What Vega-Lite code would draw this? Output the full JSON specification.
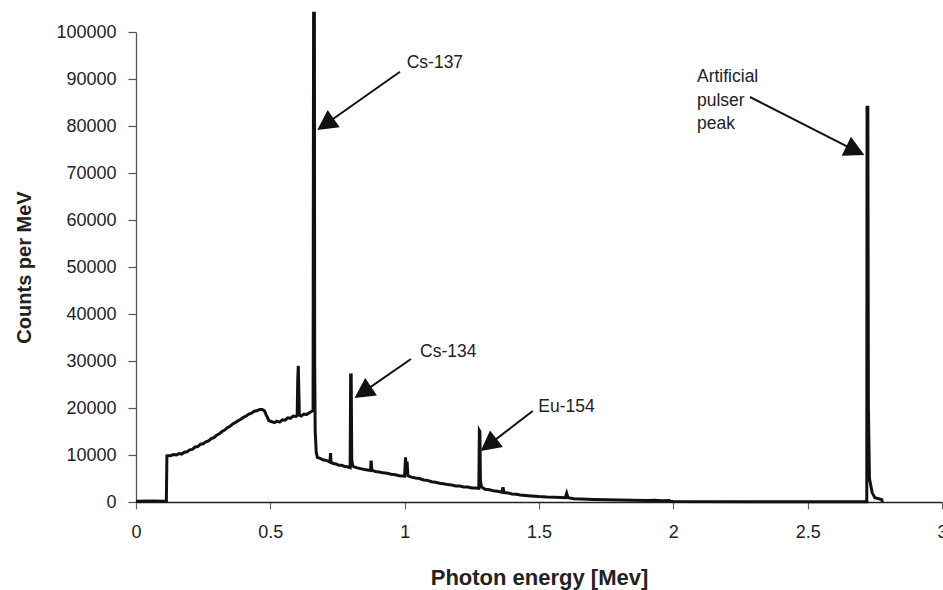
{
  "$schema": "https://vega.github.io/schema/vega-lite/v6.json",
  "width": 806,
  "height": 470,
  "autosize": {"type": "none"},
  "padding": {"left": 136, "top": 32, "right": 1, "bottom": 88},
  "background": "white",
  "config": {"view": {"stroke": null}, "font": "Liberation Sans"},
  "datasets": {
    "spectrum": [
      {"E": 0.0, "C": 180}, {"E": 0.05, "C": 200}, {"E": 0.113, "C": 180},
      {"E": 0.115, "C": 9800}, {"E": 0.13, "C": 9900}, {"E": 0.14, "C": 10100}, {"E": 0.15, "C": 10000},
      {"E": 0.16, "C": 10300}, {"E": 0.17, "C": 10200}, {"E": 0.18, "C": 10600}, {"E": 0.19, "C": 10700},
      {"E": 0.2, "C": 11100}, {"E": 0.21, "C": 11200}, {"E": 0.22, "C": 11700}, {"E": 0.23, "C": 11800},
      {"E": 0.24, "C": 12300}, {"E": 0.25, "C": 12400}, {"E": 0.26, "C": 12800}, {"E": 0.27, "C": 13000},
      {"E": 0.28, "C": 13500}, {"E": 0.29, "C": 13700}, {"E": 0.3, "C": 14200}, {"E": 0.31, "C": 14500},
      {"E": 0.32, "C": 15000}, {"E": 0.33, "C": 15300}, {"E": 0.34, "C": 15800}, {"E": 0.35, "C": 16100},
      {"E": 0.36, "C": 16600}, {"E": 0.37, "C": 16900}, {"E": 0.38, "C": 17300}, {"E": 0.39, "C": 17600},
      {"E": 0.4, "C": 18000}, {"E": 0.41, "C": 18300}, {"E": 0.42, "C": 18700}, {"E": 0.43, "C": 18900},
      {"E": 0.44, "C": 19300}, {"E": 0.45, "C": 19400}, {"E": 0.46, "C": 19700}, {"E": 0.47, "C": 19700},
      {"E": 0.478, "C": 19400}, {"E": 0.485, "C": 18500}, {"E": 0.495, "C": 17300}, {"E": 0.505, "C": 17100},
      {"E": 0.515, "C": 16900}, {"E": 0.525, "C": 17200}, {"E": 0.535, "C": 17000}, {"E": 0.545, "C": 17500},
      {"E": 0.555, "C": 17400}, {"E": 0.565, "C": 17900}, {"E": 0.575, "C": 17800}, {"E": 0.585, "C": 18300},
      {"E": 0.595, "C": 18200}, {"E": 0.6, "C": 18400}, {"E": 0.602, "C": 26000}, {"E": 0.604, "C": 29000},
      {"E": 0.606, "C": 24000}, {"E": 0.608, "C": 18500}, {"E": 0.615, "C": 18300}, {"E": 0.625, "C": 18700},
      {"E": 0.635, "C": 18600}, {"E": 0.645, "C": 19000}, {"E": 0.655, "C": 19300}, {"E": 0.659, "C": 19500},
      {"E": 0.661, "C": 104000}, {"E": 0.664, "C": 104000}, {"E": 0.665, "C": 30000}, {"E": 0.667, "C": 15000},
      {"E": 0.671, "C": 10500}, {"E": 0.675, "C": 9500}, {"E": 0.685, "C": 9300}, {"E": 0.695, "C": 9000},
      {"E": 0.705, "C": 8900}, {"E": 0.715, "C": 8700}, {"E": 0.722, "C": 8500}, {"E": 0.724, "C": 10400},
      {"E": 0.726, "C": 8400}, {"E": 0.735, "C": 8200}, {"E": 0.745, "C": 8100}, {"E": 0.755, "C": 7800},
      {"E": 0.765, "C": 7800}, {"E": 0.775, "C": 7600}, {"E": 0.785, "C": 7500}, {"E": 0.797, "C": 7300},
      {"E": 0.799, "C": 27000}, {"E": 0.801, "C": 27000}, {"E": 0.803, "C": 9000}, {"E": 0.807, "C": 7600},
      {"E": 0.82, "C": 7300}, {"E": 0.835, "C": 7100}, {"E": 0.85, "C": 6900}, {"E": 0.862, "C": 6800},
      {"E": 0.873, "C": 6700}, {"E": 0.875, "C": 8800}, {"E": 0.878, "C": 6800}, {"E": 0.89, "C": 6500},
      {"E": 0.905, "C": 6400}, {"E": 0.92, "C": 6200}, {"E": 0.935, "C": 6100}, {"E": 0.95, "C": 5900},
      {"E": 0.965, "C": 5800}, {"E": 0.98, "C": 5600}, {"E": 1.0, "C": 5500}, {"E": 1.003, "C": 9500},
      {"E": 1.006, "C": 7200}, {"E": 1.009, "C": 8600}, {"E": 1.012, "C": 5600}, {"E": 1.025, "C": 5300},
      {"E": 1.04, "C": 5100}, {"E": 1.055, "C": 5000}, {"E": 1.07, "C": 4700}, {"E": 1.085, "C": 4600},
      {"E": 1.1, "C": 4300}, {"E": 1.115, "C": 4200}, {"E": 1.13, "C": 4000}, {"E": 1.145, "C": 3900},
      {"E": 1.16, "C": 3700}, {"E": 1.175, "C": 3600}, {"E": 1.19, "C": 3400}, {"E": 1.205, "C": 3400},
      {"E": 1.22, "C": 3200}, {"E": 1.235, "C": 3200}, {"E": 1.25, "C": 3000}, {"E": 1.265, "C": 3000},
      {"E": 1.276, "C": 2900}, {"E": 1.278, "C": 15200}, {"E": 1.28, "C": 15000}, {"E": 1.282, "C": 4500},
      {"E": 1.286, "C": 3200}, {"E": 1.3, "C": 2700}, {"E": 1.315, "C": 2600}, {"E": 1.33, "C": 2400},
      {"E": 1.345, "C": 2300}, {"E": 1.362, "C": 2100}, {"E": 1.366, "C": 3100}, {"E": 1.37, "C": 2000},
      {"E": 1.385, "C": 1900}, {"E": 1.4, "C": 1700}, {"E": 1.415, "C": 1650}, {"E": 1.43, "C": 1500},
      {"E": 1.45, "C": 1400}, {"E": 1.47, "C": 1300}, {"E": 1.5, "C": 1150}, {"E": 1.53, "C": 1050},
      {"E": 1.56, "C": 1000}, {"E": 1.598, "C": 900}, {"E": 1.603, "C": 1850}, {"E": 1.608, "C": 900},
      {"E": 1.63, "C": 700}, {"E": 1.66, "C": 620}, {"E": 1.7, "C": 550}, {"E": 1.75, "C": 460},
      {"E": 1.8, "C": 400}, {"E": 1.85, "C": 350}, {"E": 1.9, "C": 300}, {"E": 1.93, "C": 380},
      {"E": 1.96, "C": 280}, {"E": 1.985, "C": 300}, {"E": 1.99, "C": 100}, {"E": 2.0, "C": 80},
      {"E": 2.3, "C": 60}, {"E": 2.6, "C": 50}, {"E": 2.72, "C": 50}, {"E": 2.721, "C": 84000},
      {"E": 2.724, "C": 84000}, {"E": 2.726, "C": 20000}, {"E": 2.73, "C": 5000}, {"E": 2.74, "C": 2000},
      {"E": 2.75, "C": 900}, {"E": 2.765, "C": 700}, {"E": 2.776, "C": 500}, {"E": 2.778, "C": 0}
    ],
    "arrows": [
      {"label": "Cs-137", "E": 0.9826, "C": 91553, "E2": 0.7054, "C2": 80383, "Et": 0.6748, "Ct": 79149},
      {"label": "Cs-134", "E": 1.0236, "C": 30426, "E2": 0.8442, "C2": 23319, "Et": 0.8133, "Ct": 22128},
      {"label": "Eu-154", "E": 1.4765, "C": 19362, "E2": 1.3124, "C2": 12149, "Et": 1.283, "Ct": 10851},
      {"label": "pulser", "E": 2.2853, "C": 86170, "E2": 2.6773, "C2": 74766, "Et": 2.7108, "Ct": 73830}
    ],
    "labels": [
      {"label": "Cs-137", "E": 1.0075, "C": 93404},
      {"label": "Cs-134", "E": 1.0571, "C": 31915},
      {"label": "Eu-154", "E": 1.4974, "C": 20213},
      {"label": "Artificial", "E": 2.0881, "C": 90426},
      {"label": "pulser", "E": 2.0881, "C": 85319},
      {"label": "peak", "E": 2.0881, "C": 80426}
    ]
  },
  "encoding": {
    "x": {
      "field": "E", "type": "quantitative",
      "scale": {"domain": [0, 3], "nice": false, "zero": false},
      "axis": {
        "title": "Photon energy [Mev]", "values": [0, 0.5, 1, 1.5, 2, 2.5, 3], "format": "~g",
        "grid": false, "domainColor": "#222", "domainWidth": 1.3, "tickColor": "#666", "tickSize": 7, "tickWidth": 1.2,
        "labelFont": "Liberation Sans", "labelFontSize": 18, "labelColor": "#222", "labelPadding": 14,
        "labelFlush": false, "labelOverlap": false,
        "titleFont": "Liberation Sans", "titleFontSize": 22, "titleFontWeight": "bold", "titleColor": "#222",
        "titleY": 82, "titleBaseline": "alphabetic"
      }
    },
    "y": {
      "field": "C", "type": "quantitative",
      "scale": {"domain": [0, 100000], "nice": false},
      "axis": {
        "title": "Counts per MeV", "values": [0, 10000, 20000, 30000, 40000, 50000, 60000, 70000, 80000, 90000, 100000],
        "format": "d", "grid": false, "domainColor": "#555", "domainWidth": 1.3, "tickColor": "#555", "tickSize": 8, "tickWidth": 1.2,
        "labelFont": "Liberation Sans", "labelFontSize": 18, "labelColor": "#222", "labelPadding": 12,
        "labelFlush": false, "labelOverlap": false,
        "titleFont": "Liberation Sans", "titleFontSize": 20, "titleFontWeight": "bold", "titleColor": "#222",
        "titleX": -106, "titleY": 235, "titleAngle": -90, "titleBaseline": "alphabetic", "titleAlign": "center"
      }
    }
  },
  "layer": [
    {
      "data": {"name": "spectrum"},
      "mark": {"type": "line", "color": "#111", "strokeWidth": 3, "interpolate": "linear", "clip": false},
      "encoding": {"order": {"field": "E", "type": "quantitative"}}
    },
    {
      "data": {"name": "arrows"},
      "mark": {"type": "rule", "color": "#111", "strokeWidth": 2},
      "encoding": {"x2": {"field": "E2"}, "y2": {"field": "C2"}}
    },
    {
      "data": {"name": "arrows"},
      "transform": [{"filter": "datum.label === 'Cs-137'"}],
      "mark": {"type": "point", "shape": "M0,0L-1.05,2L1.05,2Z", "filled": true, "size": 400, "color": "#111", "opacity": 1, "angle": 235},
      "encoding": {"x": {"field": "Et", "type": "quantitative"}, "y": {"field": "Ct", "type": "quantitative"}}
    },
    {
      "data": {"name": "arrows"},
      "transform": [{"filter": "datum.label === 'Cs-134'"}],
      "mark": {"type": "point", "shape": "M0,0L-1.05,2L1.05,2Z", "filled": true, "size": 400, "color": "#111", "opacity": 1, "angle": 236},
      "encoding": {"x": {"field": "Et", "type": "quantitative"}, "y": {"field": "Ct", "type": "quantitative"}}
    },
    {
      "data": {"name": "arrows"},
      "transform": [{"filter": "datum.label === 'Eu-154'"}],
      "mark": {"type": "point", "shape": "M0,0L-1.05,2L1.05,2Z", "filled": true, "size": 400, "color": "#111", "opacity": 1, "angle": 232},
      "encoding": {"x": {"field": "Et", "type": "quantitative"}, "y": {"field": "Ct", "type": "quantitative"}}
    },
    {
      "data": {"name": "arrows"},
      "transform": [{"filter": "datum.label === 'pulser'"}],
      "mark": {"type": "point", "shape": "M0,0L-1.05,2L1.05,2Z", "filled": true, "size": 400, "color": "#111", "opacity": 1, "angle": 116},
      "encoding": {"x": {"field": "Et", "type": "quantitative"}, "y": {"field": "Ct", "type": "quantitative"}}
    },
    {
      "data": {"name": "labels"},
      "mark": {"type": "text", "align": "left", "baseline": "middle", "font": "Liberation Sans", "fontSize": 17.5, "color": "#222"},
      "encoding": {"text": {"field": "label", "type": "nominal"}}
    }
  ]
}
